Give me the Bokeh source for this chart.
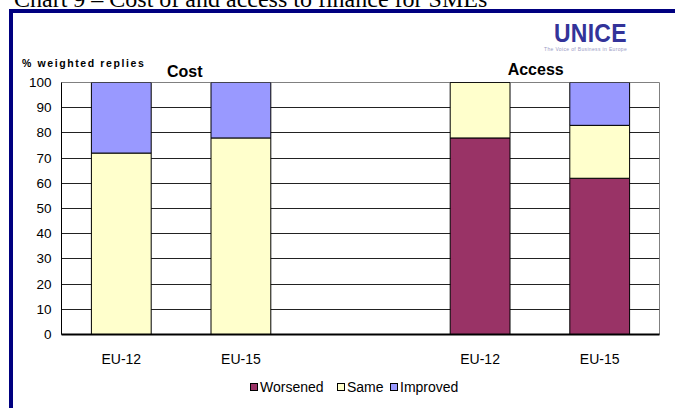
from bokeh.plotting import figure
from bokeh.models import (FixedTicker, Range1d, ColumnDataSource, Div)
from bokeh.layouts import column
from bokeh.embed import file_html
from bokeh.resources import INLINE

# ---- data ----
group_order = ["Cost", "Access"]
groups = ["Cost", "Cost", "Access", "Access"]
regions = ["EU-12", "EU-15", "EU-12", "EU-15"]
worsened = [0, 0, 78, 62]
same = [72, 78, 22, 21]
improved = [28, 22, 0, 17]
series = ["Worsened", "Same", "Improved"]
colors = ["#993366", "#FFFFCC", "#9999FF"]
y_ticks = list(range(0, 101, 10))
title_text = "Chart 9 \u2013 Cost of and access to finance for SMEs"
y_title = "% weighted replies"

# one empty slot between the two groups
xs = [i + group_order.index(g) + 0.5 for i, g in enumerate(groups)]
n_slots = len(groups) + len(group_order) - 1

W, H = 675, 408
TOP_H = 60      # height of the header strip (its texts may overflow onto the plot border)
FL, FR, FT, FB = 61, 659, 82, 334  # frame in page pixels

PH = H - TOP_H
p = figure(width=W, height=PH, x_range=Range1d(0, n_slots), y_range=Range1d(0, 100),
           output_backend="svg", toolbar_location=None,
           min_border_left=FL, min_border_right=W - FR,
           min_border_top=FT - TOP_H, min_border_bottom=H - FB)
p.background_fill_color = "white"
p.border_fill_color = None
p.outline_line_color = "#808080"
p.outline_line_width = 1

src = ColumnDataSource(dict(x=xs, Worsened=worsened, Same=same, Improved=improved))
rs = p.vbar_stack(series, x="x", width=0.5, color=colors, source=src,
                  line_color="black", line_width=1)

p.xgrid.visible = False
p.ygrid.grid_line_color = "#222222"
p.ygrid.ticker = FixedTicker(ticks=y_ticks)
p.yaxis.ticker = FixedTicker(ticks=y_ticks)
p.yaxis.major_tick_out = 0
p.yaxis.major_tick_in = 0
p.yaxis.minor_tick_out = 0
p.yaxis.minor_tick_in = 0
p.yaxis.axis_line_color = "black"
p.yaxis.major_label_standoff = 10
p.yaxis.major_label_text_font = "Liberation Sans"
p.yaxis.major_label_text_font_size = "13.5px"
p.yaxis.major_label_text_color = "black"

p.xaxis.ticker = FixedTicker(ticks=xs)
p.xaxis.major_tick_out = 0
p.xaxis.major_tick_in = 0
p.xaxis.minor_tick_out = 0
p.xaxis.minor_tick_in = 0
p.xaxis.axis_line_color = "black"
p.xaxis.axis_line_width = 2
p.xaxis.major_label_standoff = 16
p.xaxis.major_label_text_font = "Liberation Sans"
p.xaxis.major_label_text_font_size = "14px"
p.xaxis.major_label_text_color = "black"
p.xaxis.major_label_overrides = {x: r for x, r in zip(xs, regions)}

NAVY = "#000080"


def box(left, top, w, h, color, border=""):
    return (f'<div style="position:absolute;left:{left}px;top:{top}px;width:{w}px;'
            f'height:{h}px;background:{color};box-sizing:border-box;{border}"></div>')


def txt(text, left, top, size, font="Liberation Sans", weight="normal", color="black",
        width=None, align="left", spacing=0, lh=None, extra=""):
    wcss = f"width:{width}px;" if width else ""
    lh = size if lh is None else lh
    return (f'<div style="position:absolute;left:{left}px;top:{top}px;{wcss}'
            f'font-family:\'{font}\';font-size:{size}px;line-height:{lh}px;'
            f'font-weight:{weight};color:{color};text-align:{align};'
            f'letter-spacing:{spacing}px;white-space:nowrap;{extra}">{text}</div>')


# legend (below the plot, centred under the frame)
legend_sq_x = [250, 337, 390]
legend_html = ""
for s, c, lx in zip(series, colors, legend_sq_x):
    legend_html += box(lx, 383, 8, 8, c, "border:1px solid black;")
    legend_html += txt(s, lx + 10, 380, 14)

header_html = (
    f'<div style="position:relative;width:{W}px;height:{TOP_H}px;">'
    + txt(title_text, 14, -13.1, 24, font="Liberation Serif")
    + box(9, 9, W - 9, 4, NAVY)
    + box(9, 9, 4, H - 9, NAVY)
    + txt("UNICE", 554, 20.7, 25.5, weight="bold", color="#333399", spacing=0.3,
          extra="transform:scaleX(0.9);transform-origin:left top;")
    + txt("The Voice of Business in Europe", 544, 46.6, 5, color="#9a9ac4", spacing=0.35)
    + txt(y_title, 22, 58.4, 10.5, weight="bold", spacing=1.6)
    + txt(group_order[0], 184.7 - 60, 64.2, 16, weight="bold", width=120, align="center")
    + txt(group_order[1], 535.7 - 60, 61.5, 16, weight="bold", width=120, align="center")
    + legend_html
    + '</div>'
)

header = Div(text=header_html, width=W, height=TOP_H, margin=0)

layout = column(header, p, spacing=0)

open("out.html", "w").write(file_html(layout, INLINE))
